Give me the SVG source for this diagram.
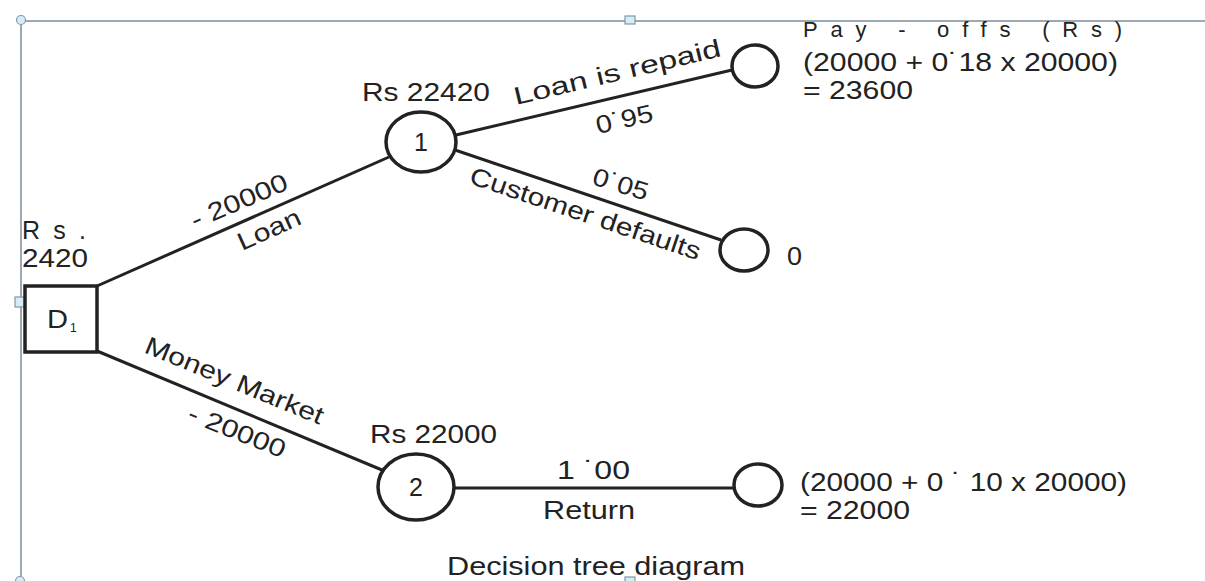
<svg xmlns="http://www.w3.org/2000/svg" width="1205" height="581" viewBox="0 0 1205 581">
<style>
.t{font-family:"Liberation Sans",Arial,sans-serif;font-size:25px;fill:#222}
.e{fill:none;stroke:#222;stroke-width:3}
.n{fill:#fff;stroke:#222;stroke-width:3.5}
.fr{stroke:#7d8d99;stroke-width:1.5;fill:none}
.h{fill:#d8ecf5;stroke:#7f98a8;stroke-width:1.2}
</style>
<rect width="1205" height="581" fill="#fff"/>
<g id="frame">
<line class="fr" x1="21" y1="21" x2="1205" y2="21"/>
<line class="fr" x1="21" y1="21" x2="21" y2="576"/>
<circle class="h" cx="21" cy="20" r="4.5"/>
<rect class="h" x="625" y="16" width="10" height="8"/>
<rect class="h" x="15" y="297" width="10" height="10"/>
<rect class="h" x="625" y="577" width="10" height="8"/>
<circle class="h" cx="20" cy="581" r="4.5"/>
</g>
<g id="connectors">
<line class="e" x1="97" y1="286" x2="389" y2="157"/>
<line class="e" x1="97" y1="351" x2="382" y2="470"/>
<line class="e" x1="456" y1="135" x2="732" y2="70"/>
<line class="e" x1="455" y1="150" x2="721" y2="240"/>
<line class="e" x1="455" y1="488" x2="734" y2="488"/>
<g transform="translate(516,105) rotate(-13.4)"><text class="t" textLength="212" lengthAdjust="spacingAndGlyphs">Loan is repaid</text></g>
<g transform="translate(598,134) rotate(-13)"><text class="t" textLength="58" lengthAdjust="spacingAndGlyphs">0˙95</text></g>
<g transform="translate(591,184) rotate(17)"><text class="t" textLength="57" lengthAdjust="spacingAndGlyphs">0˙05</text></g>
<g transform="translate(468,183) rotate(18.6)"><text class="t" textLength="242" lengthAdjust="spacingAndGlyphs">Customer defaults</text></g>
<g transform="translate(195,229) rotate(-23)"><text class="t" textLength="103" lengthAdjust="spacingAndGlyphs">- 20000</text></g>
<g transform="translate(242,251) rotate(-24.3)"><text class="t" textLength="67" lengthAdjust="spacingAndGlyphs">Loan</text></g>
<g transform="translate(143,352) rotate(22.4)"><text class="t" textLength="191" lengthAdjust="spacingAndGlyphs">Money Market</text></g>
<g transform="translate(186,420) rotate(21.8)"><text class="t" textLength="103" lengthAdjust="spacingAndGlyphs">- 20000</text></g>
<text class="t" x="557" y="479" textLength="73" lengthAdjust="spacingAndGlyphs">1 ˙00</text>
<text class="t" x="543" y="519" textLength="92" lengthAdjust="spacingAndGlyphs">Return</text>
</g>
<g id="D1">
<rect class="n" x="25" y="286" width="72" height="66"/>
<text class="t" x="47" y="328" textLength="21" lengthAdjust="spacingAndGlyphs" style="font-size:26px">D</text>
<text class="t" x="70" y="332" style="font-size:12px">1</text>
<text class="t" x="22" y="239" textLength="64" lengthAdjust="spacing">R s .</text>
<text class="t" x="22" y="267" textLength="66" lengthAdjust="spacingAndGlyphs">2420</text>
</g>
<g id="node1">
<ellipse class="n" cx="421" cy="142" rx="35" ry="30"/>
<text class="t" x="421" y="151" text-anchor="middle">1</text>
<text class="t" x="362" y="101" textLength="128" lengthAdjust="spacingAndGlyphs">Rs 22420</text>
</g>
<g id="node2">
<ellipse class="n" cx="416" cy="487" rx="38" ry="33"/>
<text class="t" x="416" y="496" text-anchor="middle">2</text>
<text class="t" x="370" y="443" textLength="127" lengthAdjust="spacingAndGlyphs">Rs 22000</text>
</g>
<g id="term1">
<ellipse class="n" cx="755" cy="66" rx="23" ry="21"/>
<text class="t" x="803" y="37" textLength="319" lengthAdjust="spacing" style="font-size:22px">Pay - offs (Rs)</text>
<text class="t" x="803" y="71" textLength="315" lengthAdjust="spacingAndGlyphs" style="font-size:26px">(20000 + 0˙18 x 20000)</text>
<text class="t" x="803" y="99" textLength="110" lengthAdjust="spacingAndGlyphs" style="font-size:26px">= 23600</text>
</g>
<g id="term2">
<ellipse class="n" cx="744" cy="250" rx="24" ry="21"/>
<text class="t" x="787" y="265" textLength="15" lengthAdjust="spacingAndGlyphs">0</text>
</g>
<g id="term3">
<ellipse class="n" cx="758" cy="485" rx="24" ry="21"/>
<text class="t" x="800" y="491" textLength="327" lengthAdjust="spacingAndGlyphs" style="font-size:26px">(20000 + 0 ˙ 10 x 20000)</text>
<text class="t" x="800" y="519" textLength="110" lengthAdjust="spacingAndGlyphs" style="font-size:26px">= 22000</text>
</g>
<text class="t" x="447" y="575" textLength="298" lengthAdjust="spacingAndGlyphs" style="font-size:26px">Decision tree diagram</text>
</svg>
